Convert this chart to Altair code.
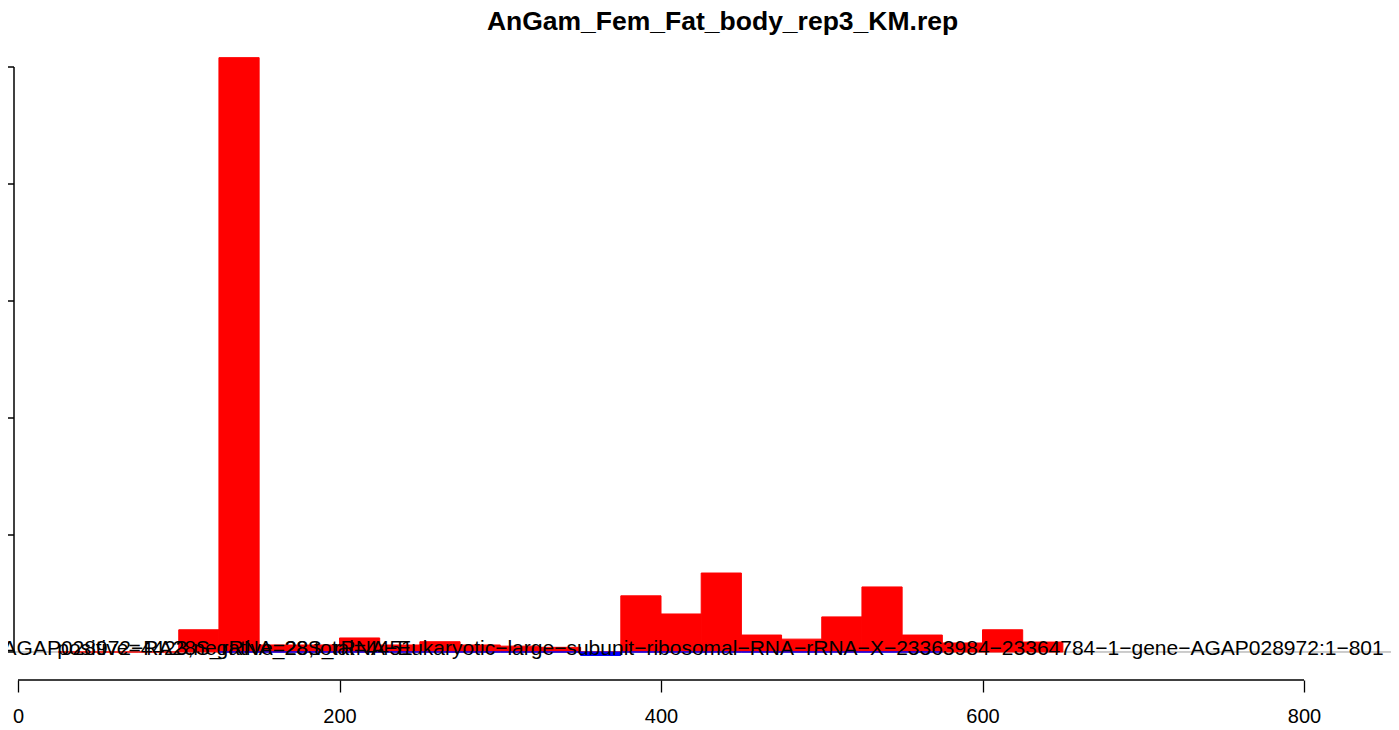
import altair as alt
import pandas as pd

title_text = "AnGam_Fem_Fat_body_rep3_KM.rep"

# positive-strand (red) bins, 25 nt wide
red_starts = [25, 50, 75, 100, 125, 150, 175, 200, 225, 250, 275, 300, 325,
              350, 375, 400, 425, 450, 475, 500, 525, 550, 575, 600, 625]
red_values = [0, 0, 0, 0.19, 5.08, 0.06, 0.06, 0.12, 0.06, 0.088, 0.06, 0.05, 0.04,
              0.0, 0.48, 0.325, 0.675, 0.145, 0.11, 0.30, 0.556, 0.145, 0.077, 0.19, 0.085]

# negative-strand (blue) bins
blue_starts = [125, 150, 175, 200, 225, 250, 275, 300, 325, 350, 375, 400, 425,
               450, 475, 500, 525, 550]
blue_values = [0, 0, 0, 0, 0, 0, 0, 0, 0, -0.03, 0, 0, 0, 0, 0, 0, 0, 0]

bin_width = 25

label_main = ("AGAP028972\u2212RA28S_rRNA_28S_rRNA\u2212Eukaryotic\u2212large\u2212subunit\u2212"
              "ribosomal\u2212RNA\u2212rRNA\u2212X\u221223363984\u221223364784\u22121\u2212gene\u2212"
              "AGAP028972:1\u2212801")
label_main_x = 420
label_counts = "positive=4423,negative=28,total=4451"
label_counts_x = 135
label_y = -0.026

x_ticks = [0, 200, 400, 600, 800]
y_ticks = [0, 1, 2, 3, 4, 5]

W, H = 1377, 640
FONT = "Liberation Sans"

xscale = alt.Scale(domain=[-2.4883, 854.12], nice=False, zero=False)
yscale = alt.Scale(domain=[-0.23932, 5.2308], nice=False, zero=False)

red_df = pd.DataFrame({"start": red_starts, "value": red_values})
red_df["end"] = red_df["start"] + bin_width
blue_df = pd.DataFrame({"start": blue_starts, "value": blue_values})
blue_df["end"] = blue_df["start"] + bin_width
text_df = pd.DataFrame({"x": [label_counts_x, label_main_x],
                        "y": [label_y, label_y],
                        "label": [label_counts, label_main]})

base_x = alt.X("start:Q", scale=xscale,
               axis=alt.Axis(values=x_ticks, domain=False, grid=False, tickSize=12,
                             tickColor="black", tickWidth=1.3, labelFont=FONT,
                             labelFontSize=20, labelColor="black", labelPadding=14,
                             title=None, format="d"))
base_y = alt.Y("value:Q", scale=yscale, axis=None)

zero_line = alt.Chart(pd.DataFrame({"v": [0]})).mark_rule(color="#9a9a9a", strokeWidth=1).encode(
    x=alt.value(0), x2=alt.value(W), y=alt.Y("v:Q", scale=yscale, axis=None))

red_bars = alt.Chart(red_df).mark_rect(color="red", stroke="red", strokeWidth=1).encode(
    x=base_x, x2="end:Q", y=base_y, y2=alt.datum(0))

blue_bars = alt.Chart(blue_df).mark_rect(color="blue", stroke="blue", strokeWidth=1).encode(
    x="start:Q", x2="end:Q", y="value:Q", y2=alt.datum(0))

texts = alt.Chart(text_df).mark_text(font=FONT, fontSize=21, color="black",
                                     align="center", baseline="alphabetic").encode(
    x="x:Q", y="y:Q", text="label:N")

y_axis_line = alt.Chart(pd.DataFrame({"a": [y_ticks[0]], "b": [y_ticks[-1]]})).mark_rule(
    color="black", strokeWidth=1.5).encode(x=alt.value(0), y="a:Q", y2="b:Q")

y_axis_ticks = alt.Chart(pd.DataFrame({"t": y_ticks})).mark_rule(
    color="black", strokeWidth=1.5).encode(x=alt.value(-8), x2=alt.value(0), y="t:Q")

x_axis_line = alt.Chart(pd.DataFrame({"a": [x_ticks[0]], "b": [x_ticks[-1]]})).mark_rule(
    color="black", strokeWidth=1.5).encode(y=alt.value(H), x="a:Q", x2="b:Q")

chart = alt.layer(zero_line, red_bars, blue_bars, texts, y_axis_line, y_axis_ticks,
                  x_axis_line).properties(
    width=W, height=H,
    padding={"left": 6, "top": 32, "right": 0, "bottom": 50},
    autosize=alt.AutoSizeParams(type="none"),
    title=alt.Title(title_text, font=FONT, fontSize=26.5, fontWeight="bold", color="black",
                    anchor="middle", dx=20, offset=5),
).configure(background="white", view=alt.ViewConfig(stroke=None))

chart.save("out.html", embed_options={"renderer": "svg", "actions": False})
